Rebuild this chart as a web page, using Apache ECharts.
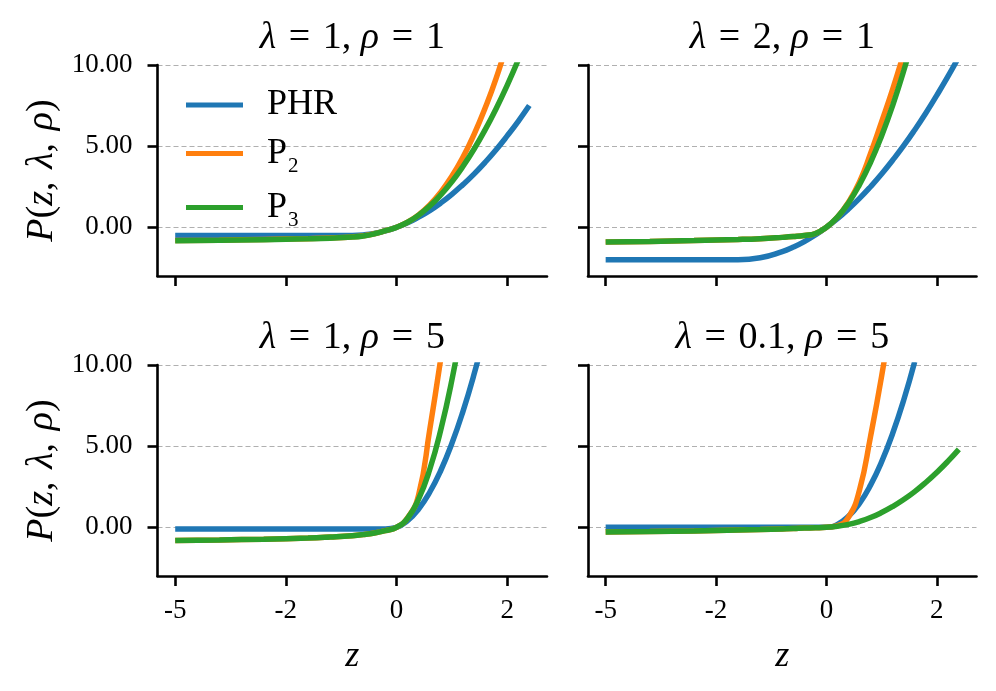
<!DOCTYPE html>
<html>
<head>
<meta charset="utf-8">
<script src="https://cdn.jsdelivr.net/npm/echarts@6/dist/echarts.min.js"></script>
<style>
  html, body { margin: 0; padding: 0; background: #fff; }
  #main { width: 996px; height: 691px; }
</style>
</head>
<body>
<div id="main"></div>
<script>
// sample points along z (shared by every curve)
const zs = [-5, -4, -3, -2, -1.5, -1, -0.75, -0.5, -0.25, 0, 0.25, 0.5, 0.75, 1, 1.25, 1.5, 1.75, 2, 2.25, 2.5, 2.75, 3];

// lambda = 1, rho = 1
const phr_1_1 = [-0.5, -0.5, -0.5, -0.5, -0.5, -0.5, -0.47, -0.38, -0.22, 0, 0.28, 0.63, 1.03, 1.5, 2.03, 2.63, 3.28, 4.0, 4.78, 5.63, 6.53, 7.5];
const p2_1_1 = [-0.82, -0.79, -0.75, -0.7, -0.66, -0.59, -0.52, -0.4, -0.21, 0, 0.32, 0.77, 1.38, 2.17, 3.14, 4.31, 5.71, 7.33, 9.17, 11.35, null, null];
const p3_1_1 = [-0.83, -0.8, -0.76, -0.71, -0.67, -0.6, -0.53, -0.4, -0.21, 0, 0.31, 0.75, 1.31, 2.0, 2.81, 3.75, 4.81, 6.0, 7.31, 8.75, 10.31, null];

// lambda = 2, rho = 1
const phr_2_1 = [-2, -2, -2, -2, -1.88, -1.5, -1.22, -0.88, -0.47, 0, 0.53, 1.13, 1.78, 2.5, 3.28, 4.13, 5.03, 6.0, 7.03, 8.13, 9.28, 10.5];
const p2_2_1 = [-0.91, -0.87, -0.82, -0.75, -0.7, -0.62, -0.57, -0.5, -0.38, 0, 0.63, 1.55, 2.8, 4.55, 6.5, 8.5, 10.7, null, null, null, null, null];
const p3_2_1 = [-0.91, -0.87, -0.82, -0.75, -0.7, -0.62, -0.57, -0.5, -0.38, 0, 0.63, 1.5, 2.63, 4.0, 5.63, 7.5, 9.63, 12.0, null, null, null, null];

// lambda = 1, rho = 5
const phr_1_5 = [-0.1, -0.1, -0.1, -0.1, -0.1, -0.1, -0.1, -0.1, -0.1, 0, 0.41, 1.13, 2.16, 3.5, 5.16, 7.13, 9.41, 12.0, null, null, null, null];
const p2_1_5 = [-0.82, -0.78, -0.73, -0.66, -0.6, -0.52, -0.45, -0.35, -0.2, 0, 0.58, 2.0, 6.0, 10.4, null, null, null, null, null, null, null, null];
const p3_1_5 = [-0.82, -0.78, -0.73, -0.66, -0.6, -0.52, -0.45, -0.35, -0.2, 0, 0.56, 1.75, 3.56, 6.0, 9.06, 12.75, null, null, null, null, null, null];

// lambda = 0.1, rho = 5
const phr_01_5 = [-0.001, -0.001, -0.001, -0.001, -0.001, -0.001, -0.001, -0.001, -0.001, 0, 0.18, 0.68, 1.48, 2.6, 4.03, 5.78, 7.83, 10.2, null, null, null, null];
const p2_01_5 = [-0.29, -0.26, -0.22, -0.17, -0.14, -0.1, -0.08, -0.05, -0.03, 0, 0.1, 0.62, 2.3, 5.6, 9.3, 13.5, null, null, null, null, null, null];
const p3_01_5 = [-0.29, -0.26, -0.22, -0.17, -0.14, -0.1, -0.08, -0.05, -0.03, 0, 0.06, 0.18, 0.36, 0.6, 0.91, 1.28, 1.71, 2.2, 2.76, 3.38, 4.06, 4.8];

const seriesNames = ['PHR', 'P2', 'P3'];
const colors = ['#1f77b4', '#ff7f0e', '#2ca02c'];
const lambdas = ['1', '2', '1', '0.1'];
const rhos = ['1', '1', '5', '5'];
const panels = [
  [phr_1_1, p2_1_1, p3_1_1],
  [phr_2_1, p2_2_1, p3_2_1],
  [phr_1_5, p2_1_5, p3_1_5],
  [phr_01_5, p2_01_5, p3_01_5]
];
const xTicks = [-5, -2.5, 0, 2.5];
const yTicks = [0, 5, 10];

const FONT = 'Liberation Serif';
const SP = '\u2004';

const grids = [
  { left: 157.5, top: 65, width: 389.5, height: 211 },
  { left: 588, top: 65, width: 388.5, height: 211 },
  { left: 157.5, top: 365, width: 389.5, height: 211 },
  { left: 588, top: 365, width: 388.5, height: 211 }
];

const titles = grids.map(function (g, i) {
  return {
    text: '{i|λ}' + SP + '=' + SP + lambdas[i] + ', {i|ρ}' + SP + '=' + SP + rhos[i],
    left: g.left + g.width / 2,
    top: g.top - 46,
    textAlign: 'center',
    padding: 0,
    textStyle: {
      fontFamily: FONT, fontSize: 38, fontWeight: 'normal', color: '#000',
      rich: { i: { fontFamily: FONT, fontStyle: 'italic', fontSize: 38, color: '#000' } }
    }
  };
});

const axisLineStyle = { color: '#000', width: 2.6 };

const xAxes = grids.map(function (g, i) {
  return {
    gridIndex: i, type: 'value', min: -5.4, max: 3.4,
    axisLine: { show: true, onZero: false, lineStyle: axisLineStyle },
    axisTick: { show: true, length: 10, customValues: xTicks, lineStyle: axisLineStyle },
    axisLabel: {
      show: i >= 2, customValues: xTicks, margin: 21,
      fontFamily: FONT, fontSize: 27, color: '#000',
      formatter: function (v) { return String(Math.trunc(v)); }
    },
    splitLine: { show: false },
    name: i >= 2 ? '{i|z}' : '',
    nameLocation: 'middle', nameGap: 63,
    nameTextStyle: { rich: { i: { fontFamily: FONT, fontStyle: 'italic', fontSize: 36, color: '#000' } } }
  };
});

const yAxes = grids.map(function (g, i) {
  return {
    gridIndex: i, type: 'value', min: -3, max: 10,
    axisLine: { show: true, onZero: false, lineStyle: axisLineStyle },
    axisTick: { show: true, length: 10, customValues: yTicks, lineStyle: axisLineStyle },
    axisLabel: {
      show: i % 2 === 0, customValues: yTicks, margin: 25,
      fontFamily: FONT, fontSize: 27, color: '#000',
      formatter: function (v) { return v.toFixed(2); }
    },
    splitLine: { show: true, lineStyle: { type: [5, 3], color: '#b0b0b0', width: 1.2 } },
    name: i % 2 === 0 ? '{i|P}({i|z},' + SP + '{i|λ},' + SP + '{i|ρ})' : '',
    nameLocation: 'middle', nameRotate: 90, nameGap: 96,
    nameTextStyle: {
      fontFamily: FONT, fontSize: 38, color: '#000',
      rich: { i: { fontFamily: FONT, fontStyle: 'italic', fontSize: 38, color: '#000' } }
    }
  };
});

const series = [];
panels.forEach(function (curves, i) {
  curves.forEach(function (vals, k) {
    const pts = [];
    zs.forEach(function (z, j) {
      if (vals[j] !== null) pts.push([z, vals[j]]);
    });
    series.push({
      name: seriesNames[k], type: 'line', xAxisIndex: i, yAxisIndex: i,
      data: pts, smooth: true, showSymbol: false, clip: true,
      lineStyle: { width: 5.5, color: colors[k] },
      itemStyle: { color: colors[k] },
      z: 2 + k
    });
  });
});

const chart = echarts.init(document.getElementById('main'), null, { renderer: 'canvas' });
chart.setOption({
  animation: false,
  backgroundColor: '#fff',
  title: titles,
  grid: grids,
  xAxis: xAxes,
  yAxis: yAxes,
  legend: {
    data: seriesNames,
    orient: 'vertical',
    left: 186, top: 87, padding: 0,
    icon: 'rect', itemWidth: 57, itemHeight: 5, itemGap: 7,
    formatter: function (name) {
      return name === 'PHR' ? '{m|PHR}' : '{m|P}{s|' + name.slice(1) + '}';
    },
    textStyle: {
      color: '#000',
      rich: {
        m: { fontFamily: FONT, fontSize: 36, lineHeight: 40, color: '#000', padding: [0, 0, 0, 19] },
        s: { fontFamily: FONT, fontSize: 21, lineHeight: 14, padding: [26, 0, 0, 1], color: '#000' }
      }
    }
  },
  series: series
});
</script>
</body>
</html>
